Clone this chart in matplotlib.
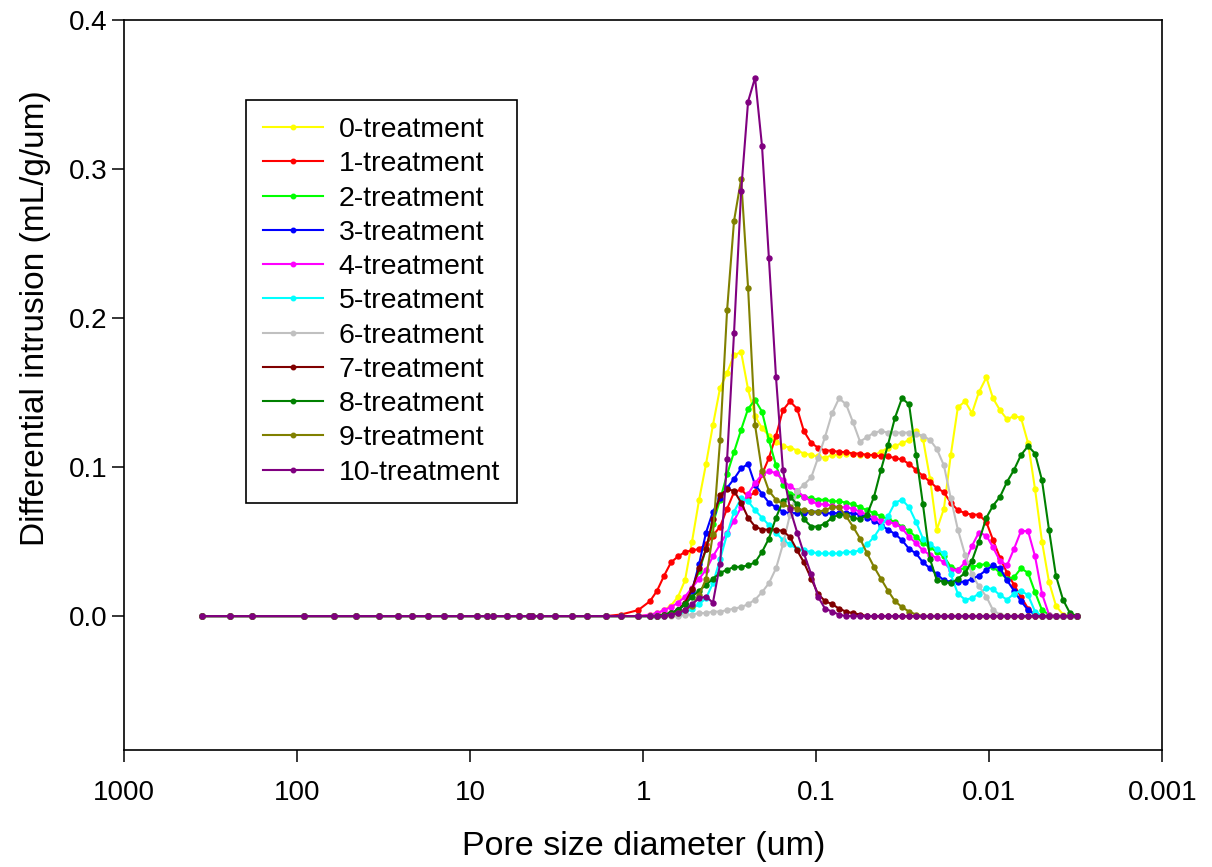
import matplotlib
matplotlib.use("Agg")
import matplotlib.pyplot as plt

plt.rcParams["font.family"] = ["Liberation Sans", "DejaVu Sans"]

# pore diameters (um): coarse pressure steps, then the dense part
d_coarse = [356, 244, 183, 92, 61, 46, 33.6, 26.3, 21.6, 17.6, 14.2, 11.5, 9.2,
            8.06, 7.38, 6.12, 5.24, 4.59, 4.43, 3.96, 3.25, 2.57, 2.13, 1.65, 1.35, 1.07]
d_fine = [0.915, 0.833, 0.759, 0.692, 0.630, 0.574, 0.523, 0.476, 0.434, 0.396,
          0.360, 0.328, 0.299, 0.272, 0.248, 0.226, 0.206, 0.188, 0.171, 0.156,
          0.142, 0.129, 0.118, 0.107, 0.0978, 0.0891, 0.0811, 0.0739, 0.0673, 0.0614,
          0.0559, 0.0509, 0.0464, 0.0423, 0.0385, 0.0351, 0.0320, 0.0291, 0.0265, 0.0242,
          0.0220, 0.0201, 0.0183, 0.0167, 0.0152, 0.0138, 0.0126, 0.0115, 0.0104, 0.00952,
          0.00867, 0.00790, 0.00720, 0.00656, 0.00597, 0.00544, 0.00496, 0.00452, 0.00412, 0.00375,
          0.00342, 0.00311]

# coarse part is flat zero for every series except 1-treatment
zero_coarse = [0.0] * 26
t1_coarse = [0.0] * 24 + [0.001, 0.004]

t0 = [0.001, 0.002, 0.004, 0.007, 0.013, 0.024, 0.050, 0.078, 0.102, 0.128,
      0.153, 0.163, 0.175, 0.177, 0.152, 0.134, 0.126, 0.121, 0.117, 0.114,
      0.113, 0.111, 0.109, 0.108, 0.107, 0.106, 0.108, 0.108, 0.109, 0.109,
      0.108, 0.108, 0.108, 0.110, 0.113, 0.114, 0.116, 0.118, 0.124, 0.119,
      0.092, 0.058, 0.072, 0.108, 0.140, 0.144, 0.136, 0.150, 0.160, 0.146,
      0.138, 0.132, 0.134, 0.133, 0.116, 0.085, 0.050, 0.023, 0.007, 0.001,
      0.0, 0.0]
t1 = [0.010, 0.017, 0.027, 0.036, 0.040, 0.043, 0.044, 0.045, 0.048, 0.054,
      0.060, 0.072, 0.083, 0.085, 0.080, 0.083, 0.095, 0.106, 0.121, 0.138,
      0.144, 0.139, 0.124, 0.116, 0.113, 0.111, 0.111, 0.110, 0.110, 0.109,
      0.109, 0.108, 0.108, 0.107, 0.107, 0.106, 0.105, 0.102, 0.098, 0.094,
      0.090, 0.086, 0.083, 0.076, 0.071, 0.069, 0.068, 0.068, 0.063, 0.051,
      0.039, 0.029, 0.021, 0.013, 0.005, 0.001, 0.0, 0.0, 0.0, 0.0,
      0.0, 0.0]
t2 = [0.0, 0.0, 0.001, 0.002, 0.004, 0.008, 0.018, 0.030, 0.045, 0.062,
      0.078, 0.095, 0.110, 0.125, 0.139, 0.145, 0.137, 0.118, 0.101, 0.088,
      0.082, 0.081, 0.080, 0.079, 0.078, 0.078, 0.077, 0.077, 0.076, 0.075,
      0.073, 0.071, 0.069, 0.067, 0.065, 0.063, 0.060, 0.057, 0.053, 0.049,
      0.046, 0.043, 0.040, 0.033, 0.031, 0.032, 0.033, 0.034, 0.035, 0.033,
      0.029, 0.025, 0.026, 0.032, 0.029, 0.016, 0.004, 0.001, 0.0, 0.0,
      0.0, 0.0]
t3 = [0.0, 0.0, 0.001, 0.002, 0.004, 0.008, 0.017, 0.035, 0.056, 0.070,
      0.079, 0.086, 0.092, 0.099, 0.102, 0.088, 0.082, 0.076, 0.073, 0.070,
      0.069, 0.069, 0.069, 0.070, 0.070, 0.069, 0.069, 0.069, 0.069, 0.069,
      0.068, 0.066, 0.064, 0.061, 0.058, 0.055, 0.051, 0.045, 0.042, 0.036,
      0.032, 0.028, 0.024, 0.023, 0.023, 0.023, 0.025, 0.027, 0.031, 0.034,
      0.032, 0.024, 0.017, 0.010, 0.004, 0.001, 0.0, 0.0, 0.0, 0.0,
      0.0, 0.0]
t4 = [0.001, 0.002, 0.004, 0.006, 0.009, 0.013, 0.019, 0.025, 0.031, 0.040,
      0.048, 0.056, 0.064, 0.073, 0.082, 0.089, 0.095, 0.097, 0.096, 0.091,
      0.087, 0.084, 0.080, 0.077, 0.075, 0.075, 0.074, 0.073, 0.073, 0.072,
      0.070, 0.068, 0.066, 0.064, 0.063, 0.062, 0.059, 0.053, 0.049, 0.044,
      0.041, 0.039, 0.036, 0.031, 0.031, 0.036, 0.047, 0.056, 0.054, 0.046,
      0.037, 0.034, 0.045, 0.057, 0.057, 0.040, 0.015, 0.001, 0.0, 0.0,
      0.0, 0.0]
t5 = [0.0, 0.0, 0.0, 0.001, 0.001, 0.002, 0.005, 0.008, 0.012, 0.022,
      0.038, 0.055, 0.070, 0.079, 0.077, 0.071, 0.066, 0.061, 0.056, 0.051,
      0.048, 0.045, 0.044, 0.043, 0.042, 0.042, 0.042, 0.042, 0.043, 0.043,
      0.044, 0.048, 0.053, 0.060, 0.067, 0.076, 0.078, 0.073, 0.063, 0.052,
      0.048, 0.045, 0.042, 0.028, 0.015, 0.011, 0.012, 0.015, 0.019, 0.018,
      0.014, 0.011, 0.015, 0.017, 0.014, 0.003, 0.0, 0.0, 0.0, 0.0,
      0.0, 0.0]
t6 = [0.0, 0.0, 0.0, 0.0, 0.0, 0.001, 0.001, 0.002, 0.002, 0.003,
      0.003, 0.004, 0.005, 0.006, 0.008, 0.011, 0.016, 0.022, 0.032, 0.048,
      0.068, 0.084, 0.088, 0.093, 0.106, 0.120, 0.136, 0.146, 0.142, 0.130,
      0.117, 0.120, 0.123, 0.124, 0.123, 0.123, 0.123, 0.123, 0.122, 0.121,
      0.118, 0.112, 0.101, 0.079, 0.058, 0.041, 0.028, 0.020, 0.013, 0.004,
      0.001, 0.0, 0.0, 0.0, 0.0, 0.0, 0.0, 0.0, 0.0, 0.0,
      0.0, 0.0]
t7 = [0.0, 0.0, 0.001, 0.002, 0.004, 0.009, 0.018, 0.032, 0.045, 0.065,
      0.081, 0.085, 0.084, 0.076, 0.066, 0.060, 0.058, 0.058, 0.058, 0.057,
      0.053, 0.044, 0.036, 0.025, 0.015, 0.010, 0.008, 0.005, 0.003, 0.002,
      0.001, 0.0, 0.0, 0.0, 0.0, 0.0, 0.0, 0.0, 0.0, 0.0,
      0.0, 0.0, 0.0, 0.0, 0.0, 0.0, 0.0, 0.0, 0.0, 0.0,
      0.0, 0.0, 0.0, 0.0, 0.0, 0.0, 0.0, 0.0, 0.0, 0.0,
      0.0, 0.0]
t8 = [0.0, 0.0, 0.001, 0.002, 0.004, 0.008, 0.013, 0.017, 0.021, 0.025,
      0.029, 0.031, 0.033, 0.033, 0.034, 0.036, 0.043, 0.052, 0.066, 0.077,
      0.080, 0.075, 0.065, 0.060, 0.060, 0.062, 0.066, 0.068, 0.068, 0.066,
      0.065, 0.068, 0.080, 0.098, 0.115, 0.133, 0.146, 0.142, 0.108, 0.075,
      0.038, 0.024, 0.023, 0.022, 0.025, 0.029, 0.037, 0.050, 0.066, 0.074,
      0.080, 0.090, 0.098, 0.108, 0.114, 0.109, 0.091, 0.058, 0.027, 0.011,
      0.002, 0.0]
t9 = [0.0, 0.0, 0.0, 0.001, 0.002, 0.004, 0.007, 0.014, 0.025, 0.055,
      0.118, 0.205, 0.265, 0.293, 0.220, 0.128, 0.097, 0.084, 0.078, 0.075,
      0.073, 0.072, 0.071, 0.070, 0.070, 0.071, 0.073, 0.073, 0.067, 0.060,
      0.052, 0.042, 0.033, 0.025, 0.017, 0.010, 0.006, 0.003, 0.001, 0.0,
      0.0, 0.0, 0.0, 0.0, 0.0, 0.0, 0.0, 0.0, 0.0, 0.0,
      0.0, 0.0, 0.0, 0.0, 0.0, 0.0, 0.0, 0.0, 0.0, 0.0,
      0.0, 0.0]
t10 = [0.0, 0.0, 0.0, 0.001, 0.002, 0.004, 0.008, 0.012, 0.013, 0.009,
       0.035, 0.105, 0.190, 0.285, 0.345, 0.361, 0.315, 0.240, 0.160, 0.098,
       0.072, 0.056, 0.042, 0.028, 0.013, 0.005, 0.003, 0.001, 0.0, 0.0,
       0.0, 0.0, 0.0, 0.0, 0.0, 0.0, 0.0, 0.0, 0.0, 0.0,
       0.0, 0.0, 0.0, 0.0, 0.0, 0.0, 0.0, 0.0, 0.0, 0.0,
       0.0, 0.0, 0.0, 0.0, 0.0, 0.0, 0.0, 0.0, 0.0, 0.0,
       0.0, 0.0]

labels = ["0-treatment", "1-treatment", "2-treatment", "3-treatment", "4-treatment",
          "5-treatment", "6-treatment", "7-treatment", "8-treatment", "9-treatment",
          "10-treatment"]
series = [t0, t1, t2, t3, t4, t5, t6, t7, t8, t9, t10]
colors = ["#FFFF00", "#FF0000", "#00FF00", "#0000FF", "#FF00FF", "#00FFFF",
          "#C0C0C0", "#800000", "#008000", "#808000", "#800080"]

x_ticks = [1000, 100, 10, 1, 0.1, 0.01, 0.001]
x_ticklabels = ["1000", "100", "10", "1", "0.1", "0.01", "0.001"]
y_ticks = [0.0, 0.1, 0.2, 0.3, 0.4]

fig = plt.figure(figsize=(12.12, 8.67), dpi=100)
ax = fig.add_axes([0.1026, 0.1346, 0.8564, 0.8429])

d_all = d_coarse + d_fine
for i, (ys, lab, c) in enumerate(zip(series, labels, colors)):
    head = t1_coarse if i == 1 else zero_coarse
    ax.plot(d_all, head + ys, color=c, lw=1.5, marker="o", ms=3.6,
            mec=c, mfc=c, label=lab)

ax.set_xscale("log")
ax.set_xlim(1000, 0.001)
ax.set_ylim(-0.09, 0.4)
ax.set_xticks(x_ticks)
ax.set_xticklabels(x_ticklabels)
ax.xaxis.set_minor_locator(matplotlib.ticker.NullLocator())
ax.set_yticks(y_ticks)
ax.set_yticklabels(["%.1f" % v for v in y_ticks])

ax.tick_params(axis="both", direction="out", length=8.4, width=1.1,
               labelsize=20, top=False, right=False)
ax.tick_params(axis="x", pad=13)
ax.tick_params(axis="y", pad=4)
for sp in ax.spines.values():
    sp.set_linewidth(1.2)

ax.set_xlabel("Pore size diameter (um)", fontsize=24.5, labelpad=18)
ax.set_ylabel("Differential intrusion (mL/g/um)", fontsize=24)
# the y title sits centred on the 0-0.4 span, not on the whole axis
ax.yaxis.set_label_coords(-0.071, 0.591)

leg = ax.legend(loc="upper left", bbox_to_anchor=(0.1172, 0.8899), fontsize=20.5,
                frameon=True, fancybox=False, edgecolor="black", framealpha=1,
                borderaxespad=0, handlelength=2.1, handletextpad=0.55,
                labelspacing=0.29, borderpad=0.6, markerscale=0.9)
leg.get_frame().set_linewidth(1.2)

fig.savefig("out.png", dpi=100)
